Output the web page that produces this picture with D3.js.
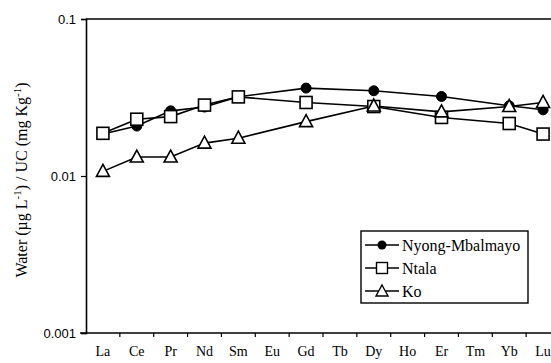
<!DOCTYPE html>
<html>
<head>
<meta charset="utf-8">
<script src="https://cdn.jsdelivr.net/npm/d3@7"></script>
<style>
  html, body { margin: 0; padding: 0; background: #fff; }
  svg { display: block; }
  .serif { font-family: "Liberation Serif", "DejaVu Serif", "Times New Roman", Times, serif; }
  .sans { font-family: "Liberation Sans", Arial, Helvetica, sans-serif; }
</style>
</head>
<body>
<svg id="chart" width="551" height="363"></svg>
<script>
// Rare earth elements along the x axis
const elements = ["La", "Ce", "Pr", "Nd", "Sm", "Eu", "Gd", "Tb", "Dy", "Ho", "Er", "Tm", "Yb", "Lu"];

// Water / upper-crust normalised concentrations (null = not measured)
const nyongMbalmayo = [0.0185, 0.0208, 0.0260, 0.0275, 0.0320, null, 0.0363, null, 0.0349, null, 0.0321, null, 0.0280, 0.0264];
const ntala         = [0.0187, 0.0230, 0.0239, 0.0283, 0.0319, null, 0.0294, null, 0.0277, null, 0.0236, null, 0.0216, 0.0185];
const ko            = [0.0107, 0.0132, 0.0132, 0.0162, 0.0174, null, 0.0222, null, 0.0279, null, 0.0256, null, 0.0277, 0.0294];

const yTickValues = [0.001, 0.01, 0.1];
const yTickLabels = ["0.001", "0.01", "0.1"];

const seriesNames = ["Nyong-Mbalmayo", "Ntala", "Ko"];
const seriesValues = [nyongMbalmayo, ntala, ko];
const seriesMarkers = ["circle", "square", "triangle"];

const svg = d3.select("#chart");
const plotLeft = 86, plotTop = 19, plotBottom = 333, plotRight = 560;

const x = d3.scaleBand().domain(elements).range([plotLeft, plotRight]).padding(0);
const y = d3.scaleLog().domain([0.001, 0.1]).range([plotBottom, plotTop]);

// Frame: top border line
svg.append("line")
  .attr("x1", plotLeft).attr("x2", 551).attr("y1", plotTop).attr("y2", plotTop)
  .attr("stroke", "#000").attr("stroke-width", 1.6);

// Left axis (log)
const yAxis = svg.append("g")
  .attr("transform", `translate(${plotLeft},0)`)
  .call(d3.axisLeft(y).tickValues(yTickValues)
    .tickFormat((d, i) => yTickLabels[i]).tickSize(5).tickPadding(5));
yAxis.attr("font-family", null);
yAxis.select(".domain").attr("stroke-width", 1.6);
yAxis.selectAll(".tick line").attr("stroke-width", 1.2);
yAxis.selectAll("text").attr("class", "sans").attr("font-size", 13).attr("fill", "#000");

// Bottom axis: labels centred in each band, ticks on band boundaries
const xAxis = svg.append("g")
  .attr("transform", `translate(0,${plotBottom})`)
  .call(d3.axisBottom(x).tickSize(0).tickPadding(13));
xAxis.attr("font-family", null);
xAxis.select(".domain").attr("d", `M${plotLeft - 6},0H551`).attr("stroke-width", 1.6);
xAxis.selectAll("text").attr("class", "serif").attr("font-size", 14).attr("fill", "#000");

svg.append("g")
  .selectAll("line")
  .data(elements.slice(1))
  .join("line")
  .attr("x1", d => x(d)).attr("x2", d => x(d))
  .attr("y1", plotBottom).attr("y2", plotBottom + 4)
  .attr("stroke", "#000").attr("stroke-width", 1.2);

// Y axis title with superscripts
const title = svg.append("text")
  .attr("class", "serif")
  .attr("transform", `translate(27,${(plotTop + plotBottom) / 2 + 4}) rotate(-90)`)
  .attr("text-anchor", "middle")
  .attr("font-size", 16).attr("fill", "#000");
title.append("tspan").text("Water (µg L");
title.append("tspan").attr("dy", -6).attr("font-size", 11).text("-1");
title.append("tspan").attr("dy", 6).text(") / UC (mg Kg");
title.append("tspan").attr("dy", -6).attr("font-size", 11).text("-1");
title.append("tspan").attr("dy", 6).text(")");

// Marker drawing
function drawMarker(g, type, cx, cy) {
  if (type === "circle") {
    g.append("circle").attr("cx", cx).attr("cy", cy).attr("r", 5)
      .attr("fill", "#000").attr("stroke", "#000").attr("stroke-width", 1);
  } else if (type === "square") {
    g.append("rect").attr("x", cx - 6).attr("y", cy - 6).attr("width", 12).attr("height", 12)
      .attr("fill", "#fff").attr("stroke", "#000").attr("stroke-width", 1.6);
  } else {
    g.append("path")
      .attr("d", `M${cx},${cy - 7}L${cx + 6.5},${cy + 5}L${cx - 6.5},${cy + 5}Z`)
      .attr("fill", "#fff").attr("stroke", "#000").attr("stroke-width", 1.6);
  }
}

const line = d3.line().x(d => x(d.el) + x.bandwidth() / 2).y(d => y(d.v));

// Lines first, then markers on top (drawn in series order)
const plot = svg.append("g");
const seriesPoints = seriesValues.map(vals =>
  elements.map((el, i) => ({ el, v: vals[i] })).filter(d => d.v != null));

seriesPoints.forEach(pts => {
  plot.append("path").datum(pts).attr("d", line)
    .attr("fill", "none").attr("stroke", "#000").attr("stroke-width", 1.6);
});
seriesPoints.forEach((pts, s) => {
  const g = plot.append("g");
  pts.forEach(d => drawMarker(g, seriesMarkers[s], x(d.el) + x.bandwidth() / 2, y(d.v)));
});

// Legend
const legend = svg.append("g");
legend.append("rect")
  .attr("x", 361).attr("y", 231).attr("width", 167).attr("height", 72)
  .attr("fill", "#fff").attr("stroke", "#000").attr("stroke-width", 1.4);
const rowsY = [245, 268, 291];
seriesNames.forEach((name, i) => {
  const ry = rowsY[i];
  legend.append("line").attr("x1", 365).attr("x2", 399).attr("y1", ry).attr("y2", ry)
    .attr("stroke", "#000").attr("stroke-width", 1.6);
  const g = legend.append("g");
  if (seriesMarkers[i] === "circle") {
    g.append("circle").attr("cx", 382).attr("cy", ry).attr("r", 4.5).attr("fill", "#000");
  } else if (seriesMarkers[i] === "square") {
    g.append("rect").attr("x", 376.5).attr("y", ry - 5.5).attr("width", 11).attr("height", 11)
      .attr("fill", "#fff").attr("stroke", "#000").attr("stroke-width", 1.4);
  } else {
    g.append("path").attr("d", `M382,${ry - 6}L388,${ry + 5}L376,${ry + 5}Z`)
      .attr("fill", "#fff").attr("stroke", "#000").attr("stroke-width", 1.4);
  }
  legend.append("text").attr("class", "serif").attr("x", 402).attr("y", ry + 5.5)
    .attr("font-size", 16).attr("fill", "#000").text(name);
});
</script>
</body>
</html>
